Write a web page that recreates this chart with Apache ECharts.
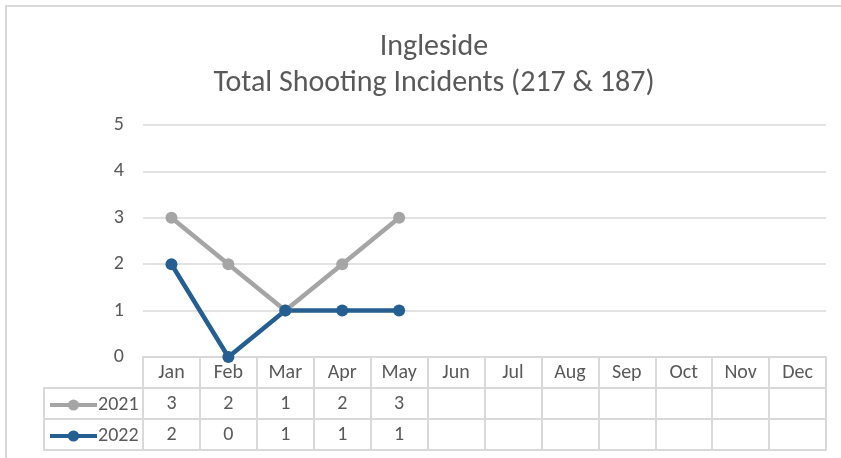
<!DOCTYPE html>
<html>
<head>
<meta charset="utf-8">
<script src="https://cdn.jsdelivr.net/npm/echarts@6/dist/echarts.min.js"></script>
<style>
  html, body { margin: 0; padding: 0; background: #fff; }
  #chart { width: 841px; height: 458px; }
</style>
</head>
<body>
<div id="chart"></div>
<script>
// data
const months = ["Jan", "Feb", "Mar", "Apr", "May", "Jun", "Jul", "Aug", "Sep", "Oct", "Nov", "Dec"];
const values2021 = [3, 2, 1, 2, 3, null, null, null, null, null, null, null];
const values2022 = [2, 0, 1, 1, 1, null, null, null, null, null, null, null];

const FONT = "Carlito, 'Liberation Sans', sans-serif";
const TEXT = "#595959";
const RULE = "#d9d9d9";
const GREY = "#a5a5a5";
const BLUE = "#255e91";

const chart = echarts.init(document.getElementById("chart"));

// one category axis per table row, stacked under the plot
const tableAxis = (data, offset, showLabels) => ({
  type: "category",
  data: data,
  position: "bottom",
  offset: offset,
  boundaryGap: true,
  axisLine: { show: true, lineStyle: { color: RULE, width: 2 } },
  axisTick: { show: showLabels, interval: 0, length: 31, lineStyle: { color: RULE, width: 2 } },
  axisLabel: { show: showLabels, interval: 0, margin: 6, color: TEXT, fontSize: 20, fontFamily: FONT },
  splitLine: { show: false },
});

const fmt = (arr) => arr.map((v) => (v === null ? "" : String(v)));

const options = {
  animation: false,
  backgroundColor: "#fff",
  title: {
    text: "Ingleside\nTotal Shooting Incidents (217 & 187)",
    left: 429,
    textAlign: "center",
    top: 24,
    textStyle: { color: TEXT, fontSize: 30, fontWeight: "normal", fontFamily: FONT, lineHeight: 36 },
  },
  legend: {
    orient: "vertical",
    left: 43,
    top: 390,
    itemWidth: 47,
    itemHeight: 14,
    itemGap: 11,
    lineStyle: { width: 4 },
    textStyle: { color: TEXT, fontSize: 20, fontFamily: FONT, padding: [0, 0, 0, -4] },
    data: ["2021", "2022"],
  },
  grid: { left: 143, right: 15, top: 125, bottom: 101 },
  xAxis: [
    tableAxis(months, 0, true),
    tableAxis(fmt(values2021), 31, true),
    tableAxis(fmt(values2022), 62, true),
    tableAxis(months.map(() => ""), 93, false),
  ],
  yAxis: {
    type: "value",
    min: 0,
    max: 5,
    interval: 1,
    axisLine: { show: false },
    axisTick: { show: false },
    axisLabel: { color: TEXT, fontSize: 20, fontFamily: FONT, margin: 19 },
    splitLine: { lineStyle: { color: RULE, width: 1.5 } },
  },
  series: [
    {
      name: "2021",
      type: "line",
      data: values2021,
      symbol: "circle",
      symbolSize: 12,
      itemStyle: { color: GREY },
      lineStyle: { color: GREY, width: 4.5 },
    },
    {
      name: "2022",
      type: "line",
      data: values2022,
      symbol: "circle",
      symbolSize: 12,
      itemStyle: { color: BLUE },
      lineStyle: { color: BLUE, width: 4.5 },
    },
  ],
  graphic: [
    // chart frame
    { type: "rect", shape: { x: 6, y: 6, width: 900, height: 600 }, style: { fill: null, stroke: RULE, lineWidth: 2 }, silent: true },
    // legend-key column of the data table
    { type: "rect", shape: { x: 44, y: 388, width: 99, height: 62 }, style: { fill: null, stroke: RULE, lineWidth: 2 }, silent: true },
    { type: "line", shape: { x1: 44, y1: 419, x2: 143, y2: 419 }, style: { stroke: RULE, lineWidth: 2 }, silent: true },
  ],
};

chart.setOption(options);
</script>
</body>
</html>
